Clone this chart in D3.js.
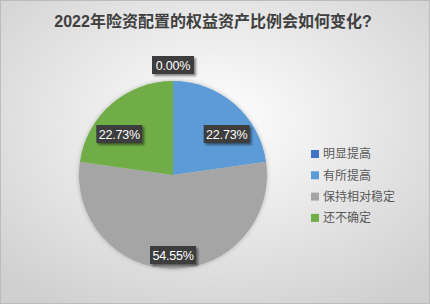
<!DOCTYPE html>
<html>
<head>
<meta charset="utf-8">
<script src="https://cdn.jsdelivr.net/npm/d3@7"></script>
<style>
  body { margin: 0; padding: 0; }
  #chart text { font-family: "Liberation Sans", "Noto Sans CJK SC", sans-serif; }
</style>
</head>
<body>
<div id="chart"></div>
<script>
// data
var categories = ["明显提高", "有所提高", "保持相对稳定", "还不确定"];
var shares = [0.00, 22.73, 54.55, 22.73];
var colors = ["#4472C4", "#5B9BD5", "#A5A5A5", "#70AD47"];
var title = "2022年险资配置的权益资产比例会如何变化?";

var width = 430, height = 304;
var cx = 173, cy = 175, radius = 94;

var svg = d3.select("#chart").append("svg")
    .attr("width", width)
    .attr("height", height);

var defs = svg.append("defs");

// background gradient
var bg = defs.append("radialGradient")
    .attr("id", "bg")
    .attr("cx", "50%").attr("cy", "40%").attr("r", "72%");
bg.append("stop").attr("offset", "0%").attr("stop-color", "#ffffff");
bg.append("stop").attr("offset", "100%").attr("stop-color", "#cfcfcf");

// shadow for labels
var sh = defs.append("filter").attr("id", "shadow")
    .attr("x", "-20%").attr("y", "-20%").attr("width", "150%").attr("height", "170%");
sh.append("feDropShadow")
    .attr("dx", 2).attr("dy", 2).attr("stdDeviation", 1.2)
    .attr("flood-color", "#000").attr("flood-opacity", 0.45);

var pieShadow = defs.append("filter").attr("id", "pieshadow")
    .attr("x", "-10%").attr("y", "-10%").attr("width", "120%").attr("height", "120%");
pieShadow.append("feDropShadow")
    .attr("dx", 0).attr("dy", 0).attr("stdDeviation", 2)
    .attr("flood-color", "#000").attr("flood-opacity", 0.25);

svg.append("rect")
    .attr("x", 0.5).attr("y", 0.5)
    .attr("width", width - 1).attr("height", height - 1)
    .attr("fill", "url(#bg)")
    .attr("stroke", "#bcbcbc");

// title
svg.append("text")
    .attr("x", 213)
    .attr("y", 27)
    .attr("text-anchor", "middle")
    .attr("font-size", "16px")
    .attr("font-weight", "bold")
    .attr("fill", "#404040")
    .text(title);

var data = categories.map(function(c, i) {
    return { name: c, value: shares[i], color: colors[i] };
});

var pie = d3.pie().sort(null).value(function(d) { return d.value; });
var arcs = pie(data);

var arc = d3.arc().innerRadius(0).outerRadius(radius);
var labelArc = d3.arc().innerRadius(82).outerRadius(82);
var outerArc = d3.arc().innerRadius(radius + 16).outerRadius(radius + 16);

var g = svg.append("g").attr("transform", "translate(" + cx + "," + cy + ")");

g.append("g").attr("filter", "url(#pieshadow)")
    .selectAll("path")
    .data(arcs.filter(function(d) { return d.value > 0; }))
    .enter()
    .append("path")
    .attr("d", arc)
    .attr("fill", function(d) { return d.data.color; });

// labels
var fmt = d3.format(".2f");
var boxW = 46, boxH = 18;

function fitInside(p) {
    // push the box toward the centre vertically until all corners sit inside the circle
    var x = p[0], y = p[1];
    for (var k = 0; k < 60; k++) {
        var ok = true;
        [[-1, -1], [1, -1], [-1, 1], [1, 1]].forEach(function(s) {
            var px = x + s[0] * boxW / 2, py = y + s[1] * boxH / 2;
            if (Math.sqrt(px * px + py * py) > radius - 2) ok = false;
        });
        if (ok) break;
        y += (y < 0 ? 1 : -1);
    }
    return [x, y];
}

var labels = g.selectAll(".lbl")
    .data(arcs)
    .enter()
    .append("g")
    .attr("class", "lbl")
    .attr("transform", function(d) {
        var p = d.value > 0 ? fitInside(labelArc.centroid(d)) : outerArc.centroid(d);
        return "translate(" + p[0] + "," + p[1] + ")";
    });

labels.append("rect")
    .attr("x", function(d) { return d.value > 0 ? -boxW / 2 : -21; })
    .attr("y", -boxH / 2)
    .attr("width", function(d) { return d.value > 0 ? boxW : 42; })
    .attr("height", boxH)
    .attr("fill", "#3d3d3d")
    .attr("filter", "url(#shadow)");

labels.append("text")
    .attr("text-anchor", "middle")
    .attr("dy", "0.36em")
    .attr("font-size", "12.5px")
    .attr("fill", "#ffffff")
    .attr("letter-spacing", "-0.2px")
    .text(function(d) { return fmt(d.data.value) + "%"; });

// legend
var legend = svg.append("g").attr("transform", "translate(311,154)");
var rows = legend.selectAll("g")
    .data(data)
    .enter()
    .append("g")
    .attr("transform", function(d, i) { return "translate(0," + (i * 21.3) + ")"; });

rows.append("rect")
    .attr("x", 0).attr("y", -4)
    .attr("width", 8).attr("height", 8)
    .attr("fill", function(d) { return d.color; });

rows.append("text")
    .attr("x", 12)
    .attr("dy", "0.35em")
    .attr("font-size", "12px")
    .attr("fill", "#595959")
    .text(function(d) { return d.name; });
</script>
</body>
</html>
